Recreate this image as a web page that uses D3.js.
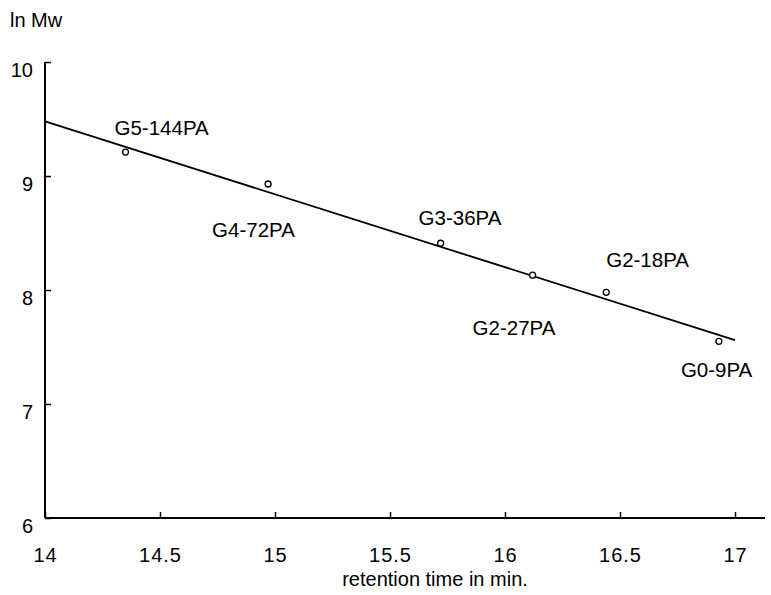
<!DOCTYPE html>
<html>
<head>
<meta charset="utf-8">
<script src="https://cdn.jsdelivr.net/npm/d3@7"></script>
<style>
body { margin:0; background:#fff; }
svg text { font-family: "Liberation Sans", Arial, sans-serif; fill:#000; }
</style>
</head>
<body>
<div id="chart"></div>
<script>
// samples: retention time (min) vs ln Mw
var names = ["G5-144PA", "G4-72PA", "G3-36PA", "G2-27PA", "G2-18PA", "G0-9PA"];
var retention = [14.35, 14.97, 15.72, 16.12, 16.44, 16.93];
var lnMw = [9.21, 8.93, 8.41, 8.13, 7.98, 7.55];
// fitted line end points
var fitX = [14, 17];
var fitY = [9.48, 7.56];
var xTicks = [14, 14.5, 15, 15.5, 16, 16.5, 17];
var yTicks = [6, 7, 8, 9, 10];

var width = 771, height = 595;

var svg = d3.select("#chart").append("svg")
  .attr("width", width)
  .attr("height", height);

var x = d3.scaleLinear().domain([14, 17]).range([45, 735]);
var y = d3.scaleLinear().domain([6, 10]).range([518, 62]);

// x axis
var gx = svg.append("g")
  .attr("transform", "translate(0," + y(6) + ")")
  .call(d3.axisBottom(x).tickValues(xTicks).tickSize(-6).tickSizeOuter(0).tickPadding(30)
    .tickFormat(function(d){ return d; }));
gx.select(".domain").remove();
gx.selectAll("line").attr("stroke", "#000").attr("stroke-width", 1.5);
gx.selectAll("text").style("font-size", "20px").style("letter-spacing", "1px");
svg.append("line")
  .attr("x1", x(14)).attr("x2", 765)
  .attr("y1", y(6)).attr("y2", y(6))
  .attr("stroke", "#000").attr("stroke-width", 2);

// y axis
var gy = svg.append("g")
  .attr("transform", "translate(" + x(14) + ",0)")
  .call(d3.axisLeft(y).tickValues(yTicks).tickSize(-6).tickSizeOuter(0).tickPadding(12)
    .tickFormat(d3.format("d")));
gy.select(".domain").remove();
gy.selectAll("line").attr("stroke", "#000").attr("stroke-width", 1.5);
gy.selectAll("text").style("font-size", "20px").attr("y", 8);
svg.append("line")
  .attr("x1", x(14)).attr("x2", x(14))
  .attr("y1", y(10)).attr("y2", y(6))
  .attr("stroke", "#000").attr("stroke-width", 2);

// axis titles
svg.append("text")
  .attr("x", 10).attr("y", 27)
  .style("font-size", "20px")
  .text("ln Mw");
svg.append("text")
  .attr("x", 435).attr("y", 586)
  .attr("text-anchor", "middle")
  .style("font-size", "20px")
  .text("retention time in min.");

// fitted line
var line = d3.line()
  .x(function(d){ return x(d[0]); })
  .y(function(d){ return y(d[1]); });
svg.append("path")
  .datum(d3.zip(fitX, fitY))
  .attr("d", line)
  .attr("fill", "none")
  .attr("stroke", "#000")
  .attr("stroke-width", 1.8);

var pts = names.map(function(n, i){ return {name:n, t:retention[i], m:lnMw[i]}; });

svg.selectAll(".pt")
  .data(pts)
  .enter().append("circle")
  .attr("class", "pt")
  .attr("cx", function(d){ return x(d.t); })
  .attr("cy", function(d){ return y(d.m); })
  .attr("r", 3)
  .attr("fill", "#fff")
  .attr("stroke", "#000")
  .attr("stroke-width", 1.3);

// label offsets from each point, pixels
var labelOff = [[-11, -17], [-56, 53], [-22, -18], [-60, 60], [0, -25], [-38, 36]];
svg.selectAll(".lbl")
  .data(pts)
  .enter().append("text")
  .attr("class", "lbl")
  .attr("x", function(d, i){ return x(d.t) + labelOff[i][0]; })
  .attr("y", function(d, i){ return y(d.m) + labelOff[i][1]; })
  .style("font-size", "20.5px")
  .text(function(d){ return d.name; });
</script>
</body>
</html>
